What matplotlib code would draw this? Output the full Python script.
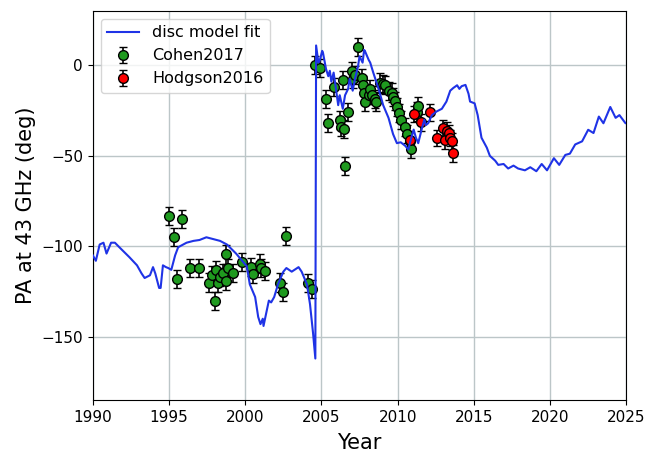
import matplotlib

matplotlib.use("Agg")
import matplotlib.pyplot as plt

# --- disc model fit --------------------------------------------------------- #
model_year = [
    1990.0, 1990.2, 1990.45, 1990.7, 1990.9, 1991.2, 1991.45, 1991.8, 1992.4, 1992.9,
    1993.2, 1993.4, 1993.75, 1993.95, 1994.1, 1994.35, 1994.45, 1994.6, 1994.8, 1994.95,
    1995.15, 1995.4, 1995.6, 1996.15, 1996.6, 1997.0, 1997.45, 1997.9, 1998.35, 1998.8,
    1999.1, 1999.4, 1999.65, 2000.1, 2000.3, 2000.65, 2000.85, 2001.0, 2001.15, 2001.2,
    2001.4, 2001.55, 2001.7, 2001.9, 2002.15, 2002.5, 2002.7, 2003.05, 2003.5, 2003.7,
    2004.05, 2004.25, 2004.45, 2004.6, 2004.63, 2004.65, 2004.8, 2004.9, 2005.05, 2005.1,
    2005.3, 2005.45, 2005.55, 2005.65, 2005.8, 2005.95, 2006.1, 2006.2, 2006.4, 2006.55,
    2006.75, 2006.85, 2007.05, 2007.2, 2007.4, 2007.5, 2007.7, 2007.8, 2007.85, 2008.1,
    2008.2, 2008.4, 2008.75, 2009.05, 2009.4, 2009.7, 2009.95, 2010.2, 2010.5, 2010.7,
    2010.8, 2011.05, 2011.2, 2011.35, 2011.6, 2011.75, 2011.85, 2012.0, 2012.25, 2012.55,
    2012.9, 2013.2, 2013.45, 2013.65, 2013.9, 2014.05, 2014.2, 2014.45, 2014.65, 2014.75,
    2015.05, 2015.25, 2015.5, 2015.85, 2016.05, 2016.4, 2016.6, 2016.95, 2017.25, 2017.6,
    2017.9, 2018.35, 2018.7, 2019.1, 2019.45, 2019.8, 2020.25, 2020.6, 2021.0, 2021.3,
    2021.65, 2022.1, 2022.5, 2022.85, 2023.2, 2023.5, 2023.95, 2024.3, 2024.55, 2024.95,
    2025.0,
]
model_pa = [
    -105, -108, -99, -98, -104, -98, -98, -101, -106, -110.5,
    -115, -117.5, -116, -111.5, -115, -123, -123, -110.5, -111.5, -112,
    -113, -105, -100.5, -98, -97, -96.5, -95, -96, -97, -99,
    -101.5, -104, -106.5, -111, -121, -128, -139, -143, -140, -144,
    -136, -130, -131, -128, -121, -114, -112, -114, -111.5, -114,
    -121, -132, -148, -162, -60, 11, 1.5, 3, 8, 7,
    -2, -6, -3, -9, -4, -13, -22, -16.5, -24, -16.5,
    -13, -7.5, -14, -7.5, -0.5, 5, 1.5, 8.5, 8, 3,
    1.5, -4, -13, -22, -29, -38, -43, -42.5, -44.5, -46.5,
    -43, -35.5, -40, -43, -34.5, -30, -33, -32, -27.5, -25.5,
    -24, -20, -14, -12.5, -11, -13, -11.5, -10.8, -15.7, -20,
    -21, -27.5, -40, -45.5, -50, -52.7, -55, -54.5, -57, -55.4,
    -57, -58, -56.3, -58.5, -54.5, -58, -51.3, -55, -49.5, -48.8,
    -43.7, -42, -35.6, -37.4, -28.3, -32, -23, -29, -27.5, -32,
    -32,
]

# --- Cohen2017 --------------------------------------------------------------- #
cohen_year = [
    1995.0, 1995.35, 1995.5, 1995.85, 1996.35, 1996.95, 1997.6, 1997.8, 1998.0, 1998.1,
    1998.2, 1998.35, 1998.55, 1998.75, 1998.75, 1998.9, 1999.2, 1999.8, 2000.35, 2000.5,
    2001.0, 2001.05, 2001.3, 2002.25, 2002.5, 2002.65, 2004.15, 2004.4,
    2004.55, 2004.9, 2005.3, 2005.4, 2005.8, 2006.2, 2006.3, 2006.4, 2006.45, 2006.55,
    2006.75, 2007.0, 2007.1, 2007.2, 2007.4, 2007.65, 2007.7, 2007.8, 2007.85, 2008.1,
    2008.2, 2008.3, 2008.5, 2008.6, 2008.85, 2009.05, 2009.2, 2009.4, 2009.6, 2009.7,
    2009.8, 2009.95, 2010.1, 2010.25, 2010.5, 2010.6, 2010.8, 2010.9, 2011.25, 2011.35,
]
cohen_pa = [
    -83, -95, -118, -85, -112, -112, -120, -116, -130, -113,
    -120, -117, -115, -104.5, -119, -112, -114.5, -108.5, -111.5, -115.5,
    -109.5, -112, -113.5, -120, -125, -94.5, -120.5, -123.5,
    0, -1.5, -18.5, -32, -12, -30, -34, -8, -35, -55.5,
    -26, -3, -7.5, -5.5, 10, -7, -11, -15.5, -20, -16.5,
    -13, -16.5, -18.5, -20, -9.5, -10.5, -11, -14, -15, -17.5,
    -19.5, -23, -26.5, -30, -34, -38, -42, -46, -25.5, -22.5,
]
cohen_err = 5.0

# --- Hodgson2016 ------------------------------------------------------------- #
hodgson_year = [2010.8, 2011.1, 2011.5, 2012.1, 2012.6, 2013.0, 2013.1, 2013.25, 2013.4, 2013.45, 2013.55, 2013.6]
hodgson_pa = [-41, -27, -31.5, -26, -40, -34.5, -41.5, -36, -37.5, -40, -42, -48.7]
hodgson_err = 4.5

fig = plt.figure(figsize=(6.49, 4.61), dpi=100)
ax = fig.add_axes([0.143, 0.132, 0.822, 0.844])

ax.plot(model_year, model_pa, color="#1f33e6", lw=1.5, label="disc model fit", zorder=3)
ax.errorbar(cohen_year, cohen_pa, yerr=cohen_err, fmt="o", ms=7, mfc="#1f9a1f", mec="black",
            mew=1.0, ecolor="black", elinewidth=1.2, capsize=3, capthick=1.2,
            label="Cohen2017", zorder=2)
ax.errorbar(hodgson_year, hodgson_pa, yerr=hodgson_err, fmt="o", ms=7, mfc="red", mec="black",
            mew=1.0, ecolor="black", elinewidth=1.2, capsize=3, capthick=1.2,
            label="Hodgson2016", zorder=2)

ax.set_xlim(1990, 2025)
ax.set_ylim(-185, 30)
ax.set_xticks(range(1990, 2026, 5))
ax.set_yticks([-150, -100, -50, 0])
ax.tick_params(labelsize=11)
ax.grid(True, color="#bcc6c8", lw=1.0)
ax.set_axisbelow(True)
ax.set_xlabel("Year", fontsize=15, labelpad=6)
ax.set_ylabel("PA at 43 GHz (deg)", fontsize=15)
ax.legend(loc="upper left", fontsize=11.5)

fig.savefig("out.png", dpi=100)
